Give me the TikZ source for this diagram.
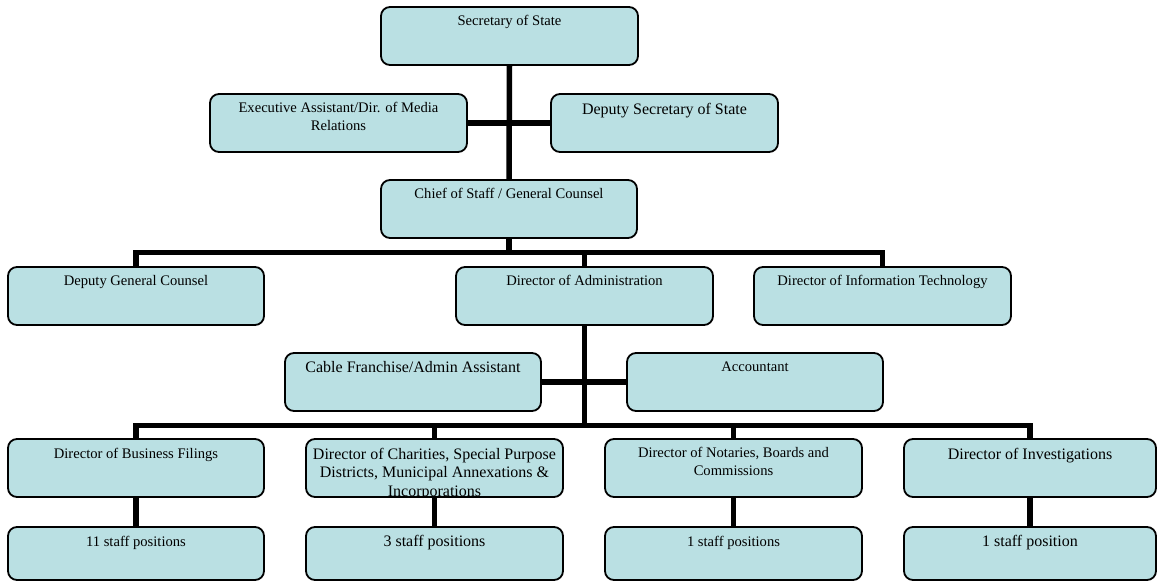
\documentclass[tikz,border=0pt]{standalone}
\usepackage{fontspec}
\setmainfont{Liberation Serif}
\usetikzlibrary{backgrounds}
\definecolor{boxfill}{RGB}{186,224,227}
\tikzset{
  box/.style={draw=black, line width=1.8pt, fill=boxfill, rounded corners=9pt, inner sep=0pt, outer sep=0pt},
  conn/.style={draw=black, line width=5.5pt, line join=miter, line cap=butt},
}
% name, x1, y1, x2, y2, font size, first-baseline offset, text
\newcommand\orgbox[8]{%
  \pgfmathsetmacro\obw{#4-#2}%
  \pgfmathsetmacro\obh{#5-#3}%
  \node[box, minimum width=\obw pt, minimum height=\obh pt] (#1) at ({(#2+#4)/2},{(#3+#5)/2})
    {\parbox[t][\obh pt][t]{\obw pt}{\centering\fontsize{#6}{18}\selectfont\rule{0pt}{#7pt}#8}};%
}
\begin{document}
\begin{tikzpicture}[x=1pt,y=-1pt]
\useasboundingbox (0,0) rectangle (1157,582);
\orgbox{sec}{381}{7}{638}{65}{14.6}{18}{Secretary of State}
\orgbox{exec}{210}{94}{467}{152}{14.6}{18}{Executive Assistant/Dir. of Media\\Relations}
\orgbox{dep}{551}{94}{778}{152}{16}{20}{Deputy Secretary of State}
\orgbox{chief}{381}{180}{637}{238}{14.6}{18}{Chief of Staff / General Counsel}
\orgbox{dgc}{8}{267}{264}{325}{14.6}{18}{Deputy General Counsel}
\orgbox{dadmin}{456}{267}{713}{325}{14.6}{18}{Director of Administration}
\orgbox{dit}{754}{267}{1011}{325}{14.6}{18}{Director of Information Technology}
\orgbox{cable}{285}{353}{541}{411}{16}{19}{Cable Franchise/Admin Assistant}
\orgbox{acct}{627}{353}{883}{411}{14.6}{18.5}{Accountant}
\orgbox{dbf}{8}{439}{264}{497}{14.6}{19}{Director of Business Filings}
% the third line runs into the lower edge and is clipped by the box
\node[box, minimum width=257pt, minimum height=58pt,
  path picture={\node[anchor=north, inner sep=0pt] at (path picture bounding box.north)
    {\parbox[t][58pt][t]{257pt}{\centering\fontsize{16}{18.5}\selectfont\rule{0pt}{20pt}Director of Charities, Special Purpose\\Districts, Municipal Annexations \&\\Incorporations}};}]
  (dch) at (434.5,468) {};
\orgbox{dnot}{605}{439}{862}{497}{14.6}{18.5}{Director of Notaries, Boards and\\Commissions}
\orgbox{dinv}{904}{439}{1156}{497}{16}{20}{Director of Investigations}
\orgbox{sa}{8}{527}{264}{580}{14.6}{19}{11 staff positions}
\orgbox{sb}{306}{527}{563}{580}{16}{19}{3 staff positions}
\orgbox{sc}{605}{527}{862}{580}{14.6}{19}{1 staff positions}
\orgbox{sd}{904}{527}{1156}{580}{16}{19}{1 staff position}
\coordinate (barA) at (0,252.5);
\coordinate (barB) at (0,425.5);
\begin{scope}[on background layer]
\draw[conn] (sec.south) -- (chief.north);
\draw[conn] (exec.east) -- (dep.west);
\draw[conn] (dgc.north) -- (dgc.north |- barA) -- (dit.north |- barA) -- (dit.north);
\draw[conn] (chief.south) -- (chief.south |- barA);
\draw[conn] (dadmin.north) -- (dadmin.north |- barA);
\draw[conn] (dadmin.south) -- (dadmin.south |- barB);
\draw[conn] (cable.east) -- (acct.west);
\draw[conn] (dbf.north) -- (dbf.north |- barB) -- (dinv.north |- barB) -- (dinv.north);
\draw[conn] (dch.north) -- (dch.north |- barB);
\draw[conn] (dnot.north) -- (dnot.north |- barB);
\draw[conn] (dbf.south) -- (sa.north);
\draw[conn] (dch.south) -- (sb.north);
\draw[conn] (dnot.south) -- (sc.north);
\draw[conn] (dinv.south) -- (sd.north);
\end{scope}
\end{tikzpicture}
\end{document}
